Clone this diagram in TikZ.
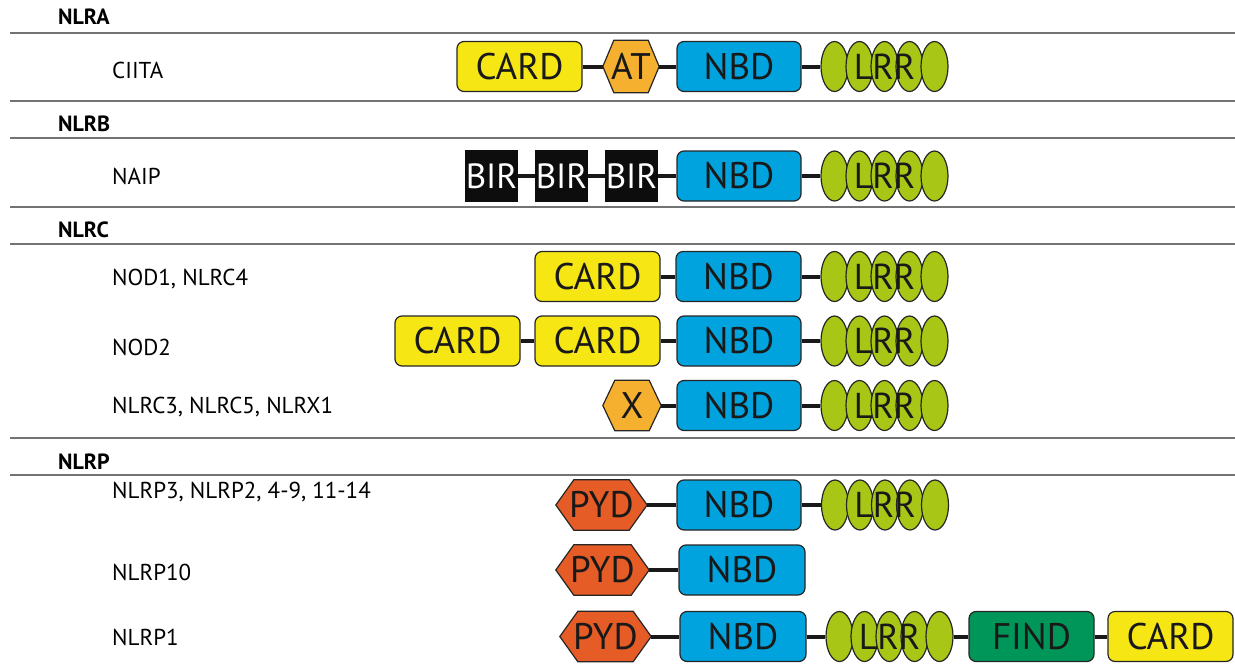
\documentclass[tikz,border=0pt]{standalone}
\usepackage{fontspec}
\setmainfont{PT Sans}
\usetikzlibrary{shapes.geometric}
\definecolor{cardY}{RGB}{246,230,20}
\definecolor{nbdB}{RGB}{0,163,221}
\definecolor{lrrG}{RGB}{168,198,22}
\definecolor{atO}{RGB}{244,176,46}
\definecolor{pydO}{RGB}{230,92,38}
\definecolor{findG}{RGB}{0,150,90}
\pgfdeclarelayer{bg}
\pgfsetlayers{bg,main}
\tikzset{
 dom/.style={rectangle, rounded corners=7pt, draw=black!85, line width=1.2pt, minimum height=50pt, minimum width=125pt, inner sep=0pt, font=\fontsize{37}{37}\selectfont, text=black!90},
 cardbox/.style={dom, fill=cardY},
 nbdbox/.style={dom, fill=nbdB},
 findbox/.style={dom, fill=findG},
 birbox/.style={rectangle, fill=black!95, minimum width=53pt, minimum height=52pt, inner sep=0pt, text=white, font=\fontsize{35}{35}\selectfont},
 lrrell/.style={ellipse, draw=black!85, line width=1.2pt, fill=lrrG, minimum width=27pt, minimum height=50pt, inner sep=0pt},
 lrrtxt/.style={inner sep=0pt, font=\fontsize{36}{36}\selectfont, text=black!90},
 hexn/.style={rectangle, inner sep=0pt, font=\fontsize{37}{37}\selectfont, text=black!90},
 hexborder/.style={draw=black!85, line width=1.2pt},
 link/.style={line width=4pt, black!90},
 sepline/.style={line width=1.3pt, black!55},
 grp/.style={anchor=west, inner sep=0pt, font=\bfseries\fontsize{22}{22}\selectfont},
 lbl/.style={anchor=west, inner sep=0pt, font=\fontsize{23}{23}\selectfont},
}
\newcommand\hexa[8]{%
 \node[hexn, minimum width=#4pt, minimum height=#5pt] (#1) at (#2,#3) {#8};
 \begin{pgfonlayer}{bg}
 \draw[hexborder, fill=#7] (#1.west) -- ([xshift=#6pt]#1.north west) -- ([xshift=-#6pt]#1.north east) -- (#1.east) -- ([xshift=-#6pt]#1.south east) -- ([xshift=#6pt]#1.south west) -- cycle;
 \end{pgfonlayer}}
\newcommand\lrrrow[3]{%
 \foreach \i in {0,...,4} {\node[lrrell] (#1\i) at ({#2+25*\i},#3) {};}
 \node[lrrtxt] (#1t) at (#12) {LRR};}
\begin{document}
\begin{tikzpicture}[x=1pt,y=-1pt]
\useasboundingbox (0,0) rectangle (1235,664);
% separator lines
\coordinate (s1a) at (10,33);  \coordinate (s1b) at (1235,33);
\coordinate (s2a) at (10,101); \coordinate (s2b) at (1235,101);
\coordinate (s3a) at (10,138); \coordinate (s3b) at (1235,138);
\coordinate (s4a) at (10,207); \coordinate (s4b) at (1235,207);
\coordinate (s5a) at (10,244); \coordinate (s5b) at (1235,244);
\coordinate (s6a) at (10,438); \coordinate (s6b) at (1235,438);
\coordinate (s7a) at (10,475); \coordinate (s7b) at (1235,475);
\foreach \k in {1,...,7} {\draw[sepline] (s\k a) -- (s\k b);}
% group headings
\node[grp] (gA) at (58,17) {NLRA};
\node[grp] (gB) at (58,124) {NLRB};
\node[grp] (gC) at (58,230) {NLRC};
\node[grp] (gP) at (58,462) {NLRP};
% row labels
\node[lbl] (l1) at (112,70) {CIITA};
\node[lbl] (l2) at (112,176) {NAIP};
\node[lbl] (l3) at (112,279) {NOD1, NLRC4};
\node[lbl] (l4) at (112,347) {NOD2};
\node[lbl] (l5) at (112,407) {NLRC3, NLRC5, NLRX1};
\node[lbl] (l6) at (112,492) {NLRP3, NLRP2, 4-9, 11-14};
\node[lbl] (l7) at (112,572) {NLRP10};
\node[lbl] (l8) at (112,637) {NLRP1};
% row 1 CIITA
\node[cardbox] (c1) at (519.5,66.5) {CARD};
\hexa{at1}{631}{66.5}{56}{52}{11}{atO}{AT}
\node[nbdbox, minimum width=124pt] (n1) at (739,66.5) {NBD};
\lrrrow{r1}{834.5}{66.5}
\draw[link] (c1.east) -- (at1.west);
\draw[link] (at1.east) -- (n1.west);
\draw[link] (n1.east) -- (r10.west);
% row 2 NAIP
\node[birbox] (b1) at (491.5,176) {BIR};
\node[birbox] (b2) at (561.5,176) {BIR};
\node[birbox] (b3) at (631.5,176) {BIR};
\node[nbdbox, minimum width=124pt] (n2) at (739,176) {NBD};
\lrrrow{r2}{834.5}{176}
\draw[link] (b1.east) -- (b2.west);
\draw[link] (b2.east) -- (b3.west);
\draw[link] (b3.east) -- (n2.west);
\draw[link] (n2.east) -- (r20.west);
% row 3 NOD1
\node[cardbox] (c3) at (597.5,276.5) {CARD};
\node[nbdbox] (n3) at (738.5,276.5) {NBD};
\lrrrow{r3}{834.5}{276.5}
\draw[link] (c3.east) -- (n3.west);
\draw[link] (n3.east) -- (r30.west);
% row 4 NOD2
\node[cardbox] (c4a) at (457.5,341) {CARD};
\node[cardbox] (c4b) at (597.5,341) {CARD};
\node[nbdbox, minimum width=124pt] (n4) at (739,341) {NBD};
\lrrrow{r4}{834.5}{341}
\draw[link] (c4a.east) -- (c4b.west);
\draw[link] (c4b.east) -- (n4.west);
\draw[link] (n4.east) -- (r40.west);
% row 5 NLRC3
\hexa{x5}{632}{405.5}{58}{50}{12}{atO}{X}
\node[nbdbox, minimum width=124pt] (n5) at (739,405.5) {NBD};
\lrrrow{r5}{834.5}{405.5}
\draw[link] (x5.east) -- (n5.west);
\draw[link] (n5.east) -- (r50.west);
% row 6 NLRP3
\hexa{p6}{601.5}{505}{91}{50}{18}{pydO}{PYD}
\node[nbdbox, minimum width=124pt] (n6) at (739,505) {NBD};
\lrrrow{r6}{835}{505}
\draw[link] (p6.east) -- (n6.west);
\draw[link] (n6.east) -- (r60.west);
% row 7 NLRP10
\hexa{p7}{602.5}{570}{93}{50}{18}{pydO}{PYD}
\node[nbdbox, minimum width=126pt] (n7) at (742,570) {NBD};
\draw[link] (p7.east) -- (n7.west);
% row 8 NLRP1
\hexa{p8}{605.5}{636.5}{91}{50}{18}{pydO}{PYD}
\node[nbdbox, minimum width=126pt] (n8) at (743,636.5) {NBD};
\lrrrow{r8}{839.5}{636.5}
\node[findbox] (f8) at (1031.5,636.5) {FIND};
\node[cardbox] (c8) at (1170.5,636.5) {CARD};
\draw[link] (p8.east) -- (n8.west);
\draw[link] (n8.east) -- (r80.west);
\draw[link] (r84.east) -- (f8.west);
\draw[link] (f8.east) -- (c8.west);
\end{tikzpicture}
\end{document}
